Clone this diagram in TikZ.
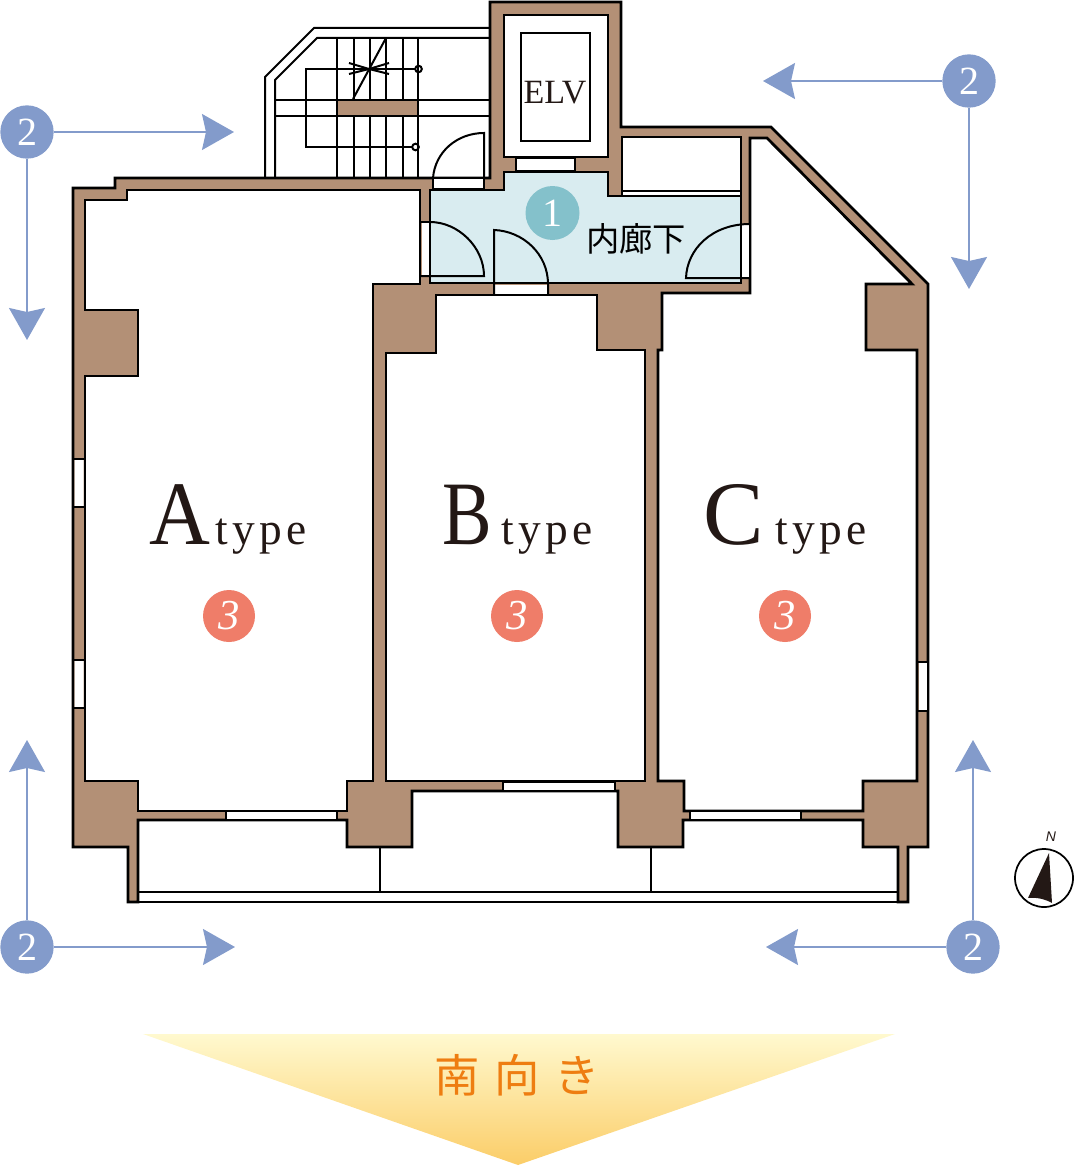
\documentclass[tikz,border=0pt]{standalone}
\usepackage{fontspec}
\setmainfont{Liberation Serif}
\newfontfamily\cjk{Noto Sans CJK JP}
\newfontfamily\nsans{Liberation Sans}
\usetikzlibrary{arrows.meta}
\definecolor{wall}{HTML}{B39076}
\definecolor{hall}{HTML}{D9ECF0}
\definecolor{ink}{HTML}{231815}
\definecolor{mark}{HTML}{839BCB}
\definecolor{teal}{HTML}{84C1CB}
\definecolor{coral}{HTML}{EF7D69}
\definecolor{tang}{HTML}{EE7D11}
\definecolor{bantop}{HTML}{FFF9CF}
\definecolor{banbot}{HTML}{FBCD68}
\tikzset{
  x=0.75pt,y=-0.75pt,
  outline/.style={draw=black,line width=2.1pt,line join=miter},
  thin/.style={draw=black,line width=1.5pt},
  room/.style={outline,fill=white},
  gap/.style={fill=white,draw=none},
  pointer/.style={draw=mark,line width=1.2pt,-{Stealth[length=24pt,width=27pt,inset=3pt]}},
  badge/.style={circle,minimum size=40pt,inner sep=0pt,text=white,font=\fontsize{30}{30}\selectfont},
  bluebadge/.style={badge,fill=mark},
  coralbadge/.style={badge,fill=coral,minimum size=39pt,font=\fontsize{32}{32}\selectfont\itshape},
  bigl/.style={anchor=base west,inner sep=0pt,text=ink,font=\fontsize{68}{68}\selectfont},
  smalll/.style={anchor=base west,inner sep=0pt,text=ink,font=\fontsize{34}{34}\selectfont},
}
\begin{document}
\begin{tikzpicture}
\useasboundingbox (0,0) rectangle (1086,1170);
% ---- stairs
\draw[thin] (265,178) -- (265,77) -- (314,28) -- (491,28);
\draw[thin] (275,178) -- (275,80) -- (317,38) -- (491,38);
\draw[thin] (275,100) -- (491,100) (275,116) -- (491,116);
\foreach \sx in {337,353.5,369.5,386,402.5,418}{
  \draw[thin] (\sx,38) -- (\sx,100) (\sx,116) -- (\sx,178);
}
\draw[thin] (415.5,69) -- (306,69) -- (306,147) -- (412,147);
\draw[thin] (418.5,69) circle (3.3) (415.5,147) circle (3.3);
\draw[thin] (386,38) -- (353,99);
\draw[thin] (349,63) -- (369,69) -- (349,74) (389,63) -- (369,69) -- (389,74);
% ---- walls: whole body
\path[outline,fill=wall]
  (73,188) -- (115,188) -- (115,178) -- (490,178)
  -- (490,2) -- (621,2) -- (621,127) -- (771,127) -- (928,284) -- (928,847)
  -- (908,847) -- (908,902) -- (898,902) -- (898,847) -- (863,847) -- (863,820)
  -- (683,820) -- (683,847) -- (618,847) -- (618,791)
  -- (412,791) -- (412,847) -- (347,847) -- (347,820) -- (138,820) -- (138,902)
  -- (128,902) -- (128,847) -- (73,847) -- cycle;
% rooms
\path[room] (85,200) -- (127,200) -- (127,190) -- (420,190) -- (420,284) -- (373,284)
  -- (373,781) -- (347,781) -- (347,811) -- (138,811) -- (138,781) -- (85,781)
  -- (85,376) -- (138,376) -- (138,310) -- (85,310) -- cycle;
\path[room] (386,353) -- (436,353) -- (436,295) -- (597,295) -- (597,350) -- (645,350)
  -- (645,781) -- (386,781) -- cycle;
\path[room] (662,293) -- (750,293) -- (750,138) -- (767,138) -- (912,284) -- (866,284)
  -- (866,350) -- (917,350) -- (917,781) -- (863,781) -- (863,811) -- (684,811)
  -- (684,781) -- (658,781) -- (658,350) -- (662,350) -- cycle;
\path[room] (504,15) rectangle (608,157);
\path[room] (622,137) rectangle (741,196);
\draw[thin] (622,191) -- (741,191);
% corridor
\path[outline,fill=hall] (430,190) -- (504,190) -- (504,172) -- (608,172)
  -- (608,196) -- (741,196) -- (741,283) -- (430,283) -- cycle;
% ELV
\draw[thin,fill=white] (521,33) rectangle (590,141);
\path[thin,fill=white] (516,158) rectangle (575,171);
% balcony
\draw[thin] (138,892) -- (898,892) (138,902) -- (898,902);
\draw[thin] (379.5,847) -- (379.5,892) (651,847) -- (651,892);
% windows
\path[gap] (74.5,459) rectangle (83.5,507) (74.5,660) rectangle (83.5,708);
\draw[thin] (73,459) -- (85,459) (73,507) -- (85,507) (73,660) -- (85,660) (73,708) -- (85,708);
\path[gap] (918.5,662) rectangle (926.5,711);
\draw[thin] (917,662) -- (928,662) (917,711) -- (928,711);
\path[draw=black,line width=1.1pt,fill=white] (226,811) rectangle (337,820);
\path[draw=black,line width=1.1pt,fill=white] (503,782) rectangle (615,791);
\path[draw=black,line width=1.1pt,fill=white] (690,811) rectangle (801,820);
% upper door
\path[draw=black,line width=1.1pt,fill=white] (433,178) rectangle (484,189);
\draw[thin] (433,178) .. controls (435,152) and (457,133) .. (484,133) -- (484,178);
% left corridor door
\path[gap] (421.5,222) rectangle (429,276);
\draw[thin] (420,222) -- (430,222);
\draw[thin] (420,276) -- (484,276) .. controls (484,247) and (458,222) .. (430,222);
% centre door
\path[gap] (494,284.5) rectangle (548,293.5);
\draw[thin] (494,294) -- (494,230) .. controls (523,231) and (548,254) .. (548,284) -- (548,294);
% right door
\path[gap] (742,224) rectangle (749,278);
\draw[thin] (750,278) -- (686,278) .. controls (687,249) and (712,224) .. (750,224);
\draw[thin] (741,224) -- (741,283);
% ---- stair landing
\path[draw=black,line width=1.5pt,fill=wall] (337,100) rectangle (418,116);
% ---- labels
\node[inner sep=0pt,text=ink,font=\fontsize{25.5}{25.5}\selectfont] (elv) at (555,93) {ELV};
\node[circle,fill=teal,minimum size=40.5pt,inner sep=0pt,text=white,font=\fontsize{30}{30}\selectfont] (one) at (552.5,213) {1};
\node[inner sep=0pt,text=black,font=\cjk\fontsize{25}{25}\selectfont] (hallname) at (636,239) {内廊下};
\node[bigl] (ta) at (149,544.5) {\addfontfeature{FakeStretch=0.93}A};
\node[smalll] (tat) at (215,544.5) {\addfontfeature{LetterSpace=10}type};
\node[bigl] (tb) at (442,544.5) {\addfontfeature{FakeStretch=0.82}B};
\node[smalll] (tbt) at (501,544.5) {\addfontfeature{LetterSpace=10}type};
\node[bigl] (tc) at (703,544.5) {C};
\node[smalll] (tct) at (775,544.5) {\addfontfeature{LetterSpace=10}type};
\node[coralbadge] (ca) at (229,616) {3};
\node[coralbadge] (cb) at (517,616) {3};
\node[coralbadge] (cc) at (785,616) {3};
% ---- markers
\node[bluebadge] (nw) at (27,132) {2};
\node[bluebadge] (ne) at (969,81) {2};
\node[bluebadge] (sw) at (27,947) {2};
\node[bluebadge] (se) at (973,947) {2};
\coordinate (nwr) at (234,132);
\coordinate (nwd) at (27,340);
\coordinate (nel) at (763,81);
\coordinate (ned) at (969,289);
\coordinate (swu) at (27,740);
\coordinate (swr) at (235,947);
\coordinate (seu) at (973,740);
\coordinate (sel) at (766,947);
\foreach \a/\b in {nw/nwr,nw/nwd,ne/nel,ne/ned,sw/swu,sw/swr,se/seu,se/sel}{
  \draw[pointer] (\a) -- (\b);
}
% ---- compass
\node[circle,draw=black,line width=1.3pt,minimum size=43.5pt,inner sep=0pt] (compass) at (1044,878) {};
\fill[ink] (1049,853) -- (1028,898) .. controls (1036,897) and (1045,899) .. (1052,903) -- cycle;
\node[inner sep=0pt,text=ink,font=\nsans\itshape\fontsize{10.5}{10.5}\selectfont] (north) at (1051,837) {N};
% ---- south banner
\shade[top color=bantop,bottom color=banbot]
  (143,1034) -- (895,1034) -- (518,1165) -- cycle;
\node[inner sep=0pt,text=tang,font=\cjk\fontsize{34}{34}\selectfont] (south) at (517,1075) {\addfontfeature{LetterSpace=32}南向き};
\end{tikzpicture}
\end{document}
